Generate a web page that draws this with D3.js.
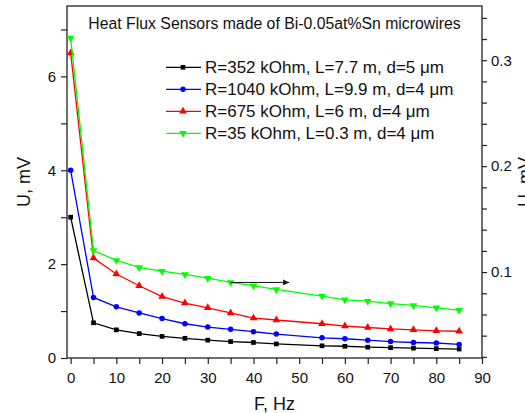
<!DOCTYPE html>
<html>
<head>
<meta charset="utf-8">
<script src="https://cdn.jsdelivr.net/npm/d3@7"></script>
<style>
  body { margin: 0; background: #fff; }
  text { font-family: "Liberation Sans", Arial, sans-serif; fill: #111; }
</style>
</head>
<body>
<svg id="plotarea"></svg>
<script>
// frequencies (Hz) - note there is no point at 50 Hz in the original
var freq = [0, 5, 10, 15, 20, 25, 30, 35, 40, 45, 55, 60, 65, 70, 75, 80, 85];

// output voltage, mV
var uBlack = [3.0, 0.75, 0.60, 0.52, 0.46, 0.42, 0.38, 0.35, 0.33, 0.30, 0.26, 0.25, 0.23, 0.22, 0.21, 0.20, 0.19];
var uBlue  = [4.0, 1.29, 1.09, 0.96, 0.84, 0.73, 0.66, 0.61, 0.56, 0.51, 0.43, 0.41, 0.38, 0.35, 0.33, 0.32, 0.29];
var uRed   = [6.5, 2.13, 1.79, 1.54, 1.31, 1.17, 1.07, 0.96, 0.85, 0.81, 0.73, 0.68, 0.65, 0.62, 0.60, 0.58, 0.57];
var uGreen = [6.82, 2.29, 2.08, 1.93, 1.85, 1.78, 1.70, 1.61, 1.54, 1.46, 1.32, 1.24, 1.21, 1.16, 1.12, 1.07, 1.02];

var seriesNames = [
    "R=352 kOhm, L=7.7 m, d=5 \u03bcm",
    "R=1040 kOhm, L=9.9 m, d=4 \u03bcm",
    "R=675 kOhm, L=6 m, d=4 \u03bcm",
    "R=35 kOhm, L=0.3 m, d=4 \u03bcm"
];
var seriesColors = ["#000000", "#0000ff", "#ff0000", "#00ff00"];
var seriesSymbols = [d3.symbolSquare, d3.symbolCircle, d3.symbolTriangle, d3.symbolTriangle];

var xTicks = [0, 10, 20, 30, 40, 50, 60, 70, 80, 90];
var yLeftTicks = [0, 2, 4, 6];
var yRightTicks = [0.1, 0.2, 0.3];

// arrow pointing to the right axis (data coords: F, U left)
var arrowFrom = [35, 1.61];
var arrowTo = [47.8, 1.61];

var title = "Heat Flux Sensors made of Bi-0.05at%Sn microwires";

var W = 525, H = 413;
var margin = {top: 6, right: 43, bottom: 55, left: 67};
var width = W - margin.left - margin.right;
var height = H - margin.top - margin.bottom;

var svg = d3.select("#plotarea")
    .attr("width", W)
    .attr("height", H);

var g = svg.append("g")
    .attr("transform", "translate(" + margin.left + "," + margin.top + ")");

var x = d3.scaleLinear().domain([-0.8, 90]).range([0, width]);
var y = d3.scaleLinear().domain([0, 7.5]).range([height, 0]);
var y2 = d3.scaleLinear().domain([0.0189, 0.3512]).range([height, 0]);

// ----- axes -----
// x: minor every 5, labels every 10
var xAxis = g.append("g")
    .attr("transform", "translate(0," + height + ")")
    .call(d3.axisBottom(x).tickValues(d3.range(0, 91, 5)).tickSize(6).tickFormat(function (d) {
        return xTicks.indexOf(d) >= 0 ? d : "";
    }));
xAxis.selectAll("text").style("font-size", "15px").attr("y", 25).attr("dy", null);

var yAxis = g.append("g")
    .call(d3.axisLeft(y).tickValues(d3.range(0, 8, 1)).tickSize(6).tickFormat(function (d) {
        return yLeftTicks.indexOf(d) >= 0 ? d : "";
    }));
yAxis.selectAll("text").style("font-size", "15px").attr("x", -11);

var y2Axis = g.append("g")
    .attr("transform", "translate(" + width + ",0)")
    .call(d3.axisRight(y2).tickValues(d3.range(0.02, 0.35, 0.02)).tickSize(5).tickFormat(function (d) {
        var r = Math.round(d * 100) / 100;
        return yRightTicks.indexOf(r) >= 0 ? r : "";
    }));
y2Axis.selectAll("text").style("font-size", "15px").attr("x", 9);

[xAxis, yAxis, y2Axis].forEach(function (a) {
    a.select(".domain").remove();
    a.selectAll("line").attr("stroke", "#222").attr("stroke-width", 1.2);
    a.selectAll("text").style("fill", "#111").style("font-family", "Liberation Sans, Arial, sans-serif");
});

// frame
g.append("rect")
    .attr("width", width)
    .attr("height", height)
    .attr("fill", "none")
    .attr("stroke", "#222")
    .attr("stroke-width", 1.3);

// axis titles
svg.append("text")
    .attr("x", margin.left + width / 2)
    .attr("y", 410)
    .attr("text-anchor", "middle")
    .style("font-size", "18px")
    .text("F, Hz");

svg.append("text")
    .attr("transform", "translate(30," + (margin.top + height / 2) + ") rotate(-90)")
    .attr("text-anchor", "middle")
    .style("font-size", "18px")
    .text("U, mV");

// right title is partly cut by the page edge, as in the original
svg.append("text")
    .attr("transform", "translate(531," + (margin.top + height / 2) + ") rotate(-90)")
    .attr("text-anchor", "middle")
    .style("font-size", "18px")
    .text("U, mV");

// title inside the plot
g.append("text")
    .attr("x", width / 2)
    .attr("y", 23.3)
    .attr("text-anchor", "middle")
    .style("font-size", "15.8px")
    .text(title);

// ----- series -----
var allSeries = [uBlack, uBlue, uRed, uGreen];
var line = d3.line()
    .x(function (d) { return x(d[0]); })
    .y(function (d) { return y(d[1]); });

function symbolPath(i) {
    var size = i === 0 ? 22 : (i === 1 ? 24 : 26);
    return d3.symbol().type(seriesSymbols[i]).size(size)();
}

allSeries.forEach(function (vals, i) {
    var pts = freq.map(function (f, k) { return [f, vals[k]]; });
    g.append("path")
        .datum(pts)
        .attr("d", line)
        .attr("fill", "none")
        .attr("stroke", seriesColors[i])
        .attr("stroke-width", 1.3);

    g.selectAll(".pt" + i)
        .data(pts)
        .enter()
        .append("path")
        .attr("class", "pt" + i)
        .attr("d", symbolPath(i))
        .attr("transform", function (d) {
            // green triangles point down
            var rot = i === 3 ? " rotate(180)" : "";
            return "translate(" + x(d[0]) + "," + y(d[1]) + ")" + rot;
        })
        .attr("fill", seriesColors[i]);
});

// ----- legend -----
var legend = g.append("g")
    .attr("transform", "translate(" + (166 - margin.left) + "," + (67.3 - margin.top) + ")");

seriesNames.forEach(function (name, i) {
    var row = legend.append("g").attr("transform", "translate(0," + (i * 22) + ")");
    row.append("line")
        .attr("x1", 0).attr("x2", 35)
        .attr("y1", 0).attr("y2", 0)
        .attr("stroke", seriesColors[i])
        .attr("stroke-width", 1.3);
    row.append("path")
        .attr("d", symbolPath(i))
        .attr("transform", "translate(17,0)" + (i === 3 ? " rotate(180)" : ""))
        .attr("fill", seriesColors[i]);
    row.append("text")
        .attr("x", 39)
        .attr("y", 0)
        .attr("dy", "0.35em")
        .style("font-size", "17px")
        .text(name);
});

// ----- arrow toward the right axis -----
svg.append("defs").append("marker")
    .attr("id", "arrowhead")
    .attr("viewBox", "0 0 10 10")
    .attr("refX", 10).attr("refY", 5)
    .attr("markerWidth", 9).attr("markerHeight", 6)
    .attr("markerUnits", "userSpaceOnUse")
    .attr("orient", "auto")
    .append("path")
    .attr("d", "M0,0 L10,5 L0,10 Z")
    .attr("fill", "#111");

g.append("line")
    .attr("x1", x(arrowFrom[0])).attr("y1", y(arrowFrom[1]))
    .attr("x2", x(arrowTo[0])).attr("y2", y(arrowTo[1]))
    .attr("stroke", "#111")
    .attr("stroke-width", 1)
    .attr("marker-end", "url(#arrowhead)");
</script>
</body>
</html>
